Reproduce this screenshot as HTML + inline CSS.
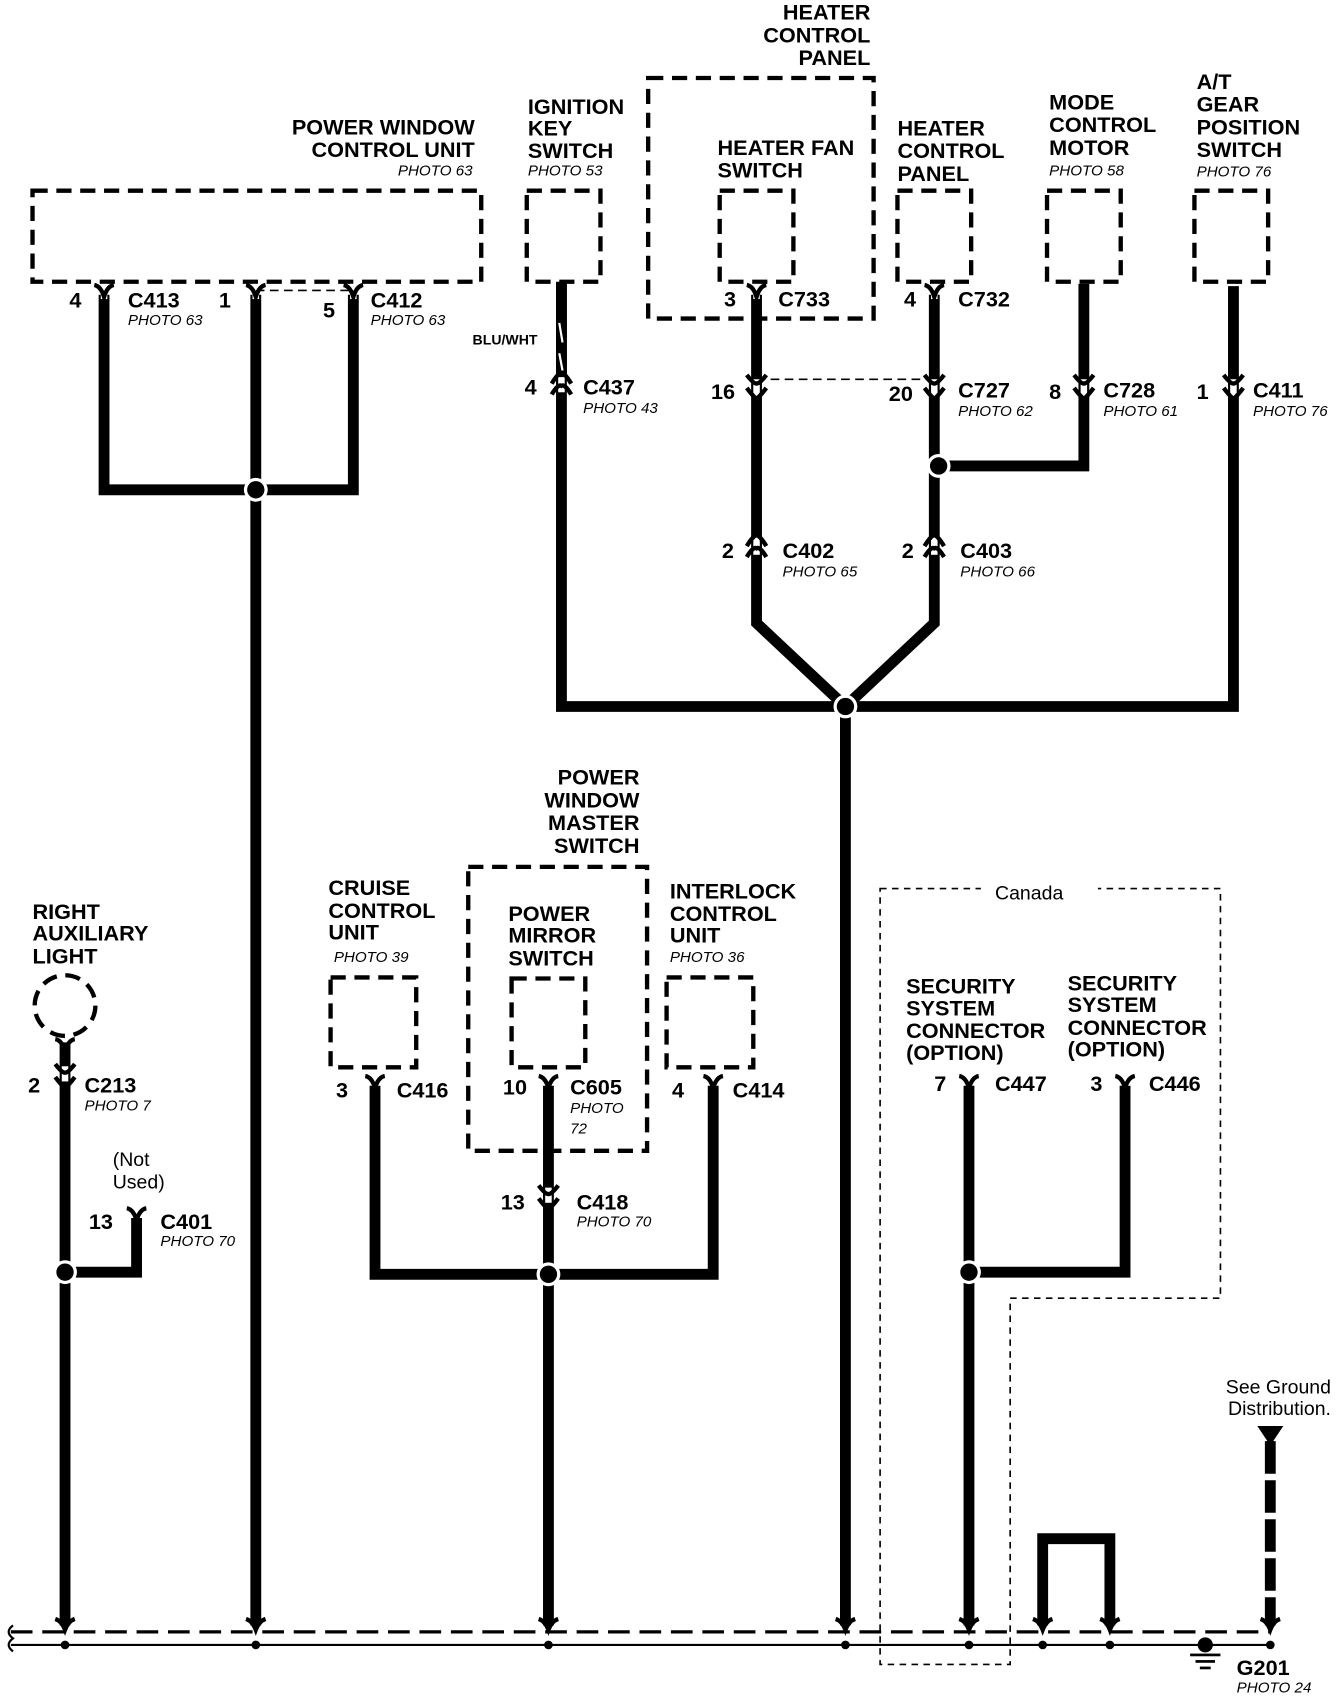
<!DOCTYPE html>
<html><head><meta charset="utf-8"><style>
html,body{margin:0;padding:0;background:#fff}
svg{display:block}
text{font-family:"Liberation Sans",Arial,sans-serif;fill:#000}
.b{font-weight:bold;font-size:20px}
.p{font-style:italic;font-size:14px}
.n{font-size:18px}
.r{text-anchor:end}
</style></head><body>
<svg width="1344" height="1698" viewBox="0 0 1240 1567" preserveAspectRatio="none" xmlns="http://www.w3.org/2000/svg">
<defs>
<g id="y"><path d="M-9,-9 Q-3,-8 0,2 Q3,-8 9,-9" stroke="#000" stroke-width="4" fill="none"/></g>
<g id="yy"><path d="M-9,-2 Q-3,-12 0,-12 Q3,-12 9,-2" stroke="#000" stroke-width="4" fill="none"/><path d="M-9,8 Q-3,-2 0,0 Q3,-2 9,8" stroke="#000" stroke-width="4" fill="none"/></g>
<g id="vv"><path d="M-9,-10 Q-3,-2 0,-2 Q3,-2 9,-10" stroke="#000" stroke-width="4" fill="none"/><path d="M-9,2 Q-3,10 0,12 Q3,10 9,2" stroke="#000" stroke-width="4" fill="none"/></g>
<g id="nd"><circle r="11" fill="#fff"/><circle r="8" fill="#000"/></g>
</defs>
<g fill="none" stroke="#000" stroke-width="4" stroke-dasharray="14,8">
<rect x="30" y="176" width="414" height="84"/>
<rect x="486" y="176" width="68" height="84"/>
<rect x="598" y="72" width="208" height="222"/>
<rect x="664" y="176" width="68" height="84"/>
<rect x="828" y="176" width="68" height="84"/>
<rect x="966" y="176" width="68" height="84"/>
<rect x="1102" y="176" width="68" height="84"/>
<rect x="432" y="800" width="165" height="262"/>
<rect x="472" y="903" width="68" height="82"/>
<rect x="305" y="902" width="79" height="83"/>
<rect x="615" y="902" width="80" height="83"/>
<circle cx="60" cy="928" r="28"/>
</g>
<path d="M812,820 H1126 V1198 H932 V1536 H812 Z" fill="none" stroke="#000" stroke-width="1.5" stroke-dasharray="6,5"/>
<rect x="905" y="812" width="108" height="20" fill="#fff"/>
<g fill="none" stroke="#000" stroke-width="1.5" stroke-dasharray="8,5">
<line x1="236" y1="268" x2="326" y2="268"/>
<line x1="698" y1="350" x2="862" y2="350"/>
</g>
<g fill="none" stroke="#000" stroke-width="10" stroke-linejoin="miter">
<path d="M96,272 V452 H326 V272"/>
<path d="M236,272 V1500"/>
<path d="M518,262 V652 H1138 V264"/>
<path d="M698,272 V575 L780,652 L862,575 V272"/>
<path d="M1000,262 V430 H862"/>
<path d="M780,652 V1500"/>
<path d="M60,962 V1500"/>
<path d="M126,1124 V1174 H60"/>
<path d="M346,1002 V1176 H658 V1002"/>
<path d="M506,1002 V1500"/>
<path d="M894,1002 V1500"/>
<path d="M1038,1002 V1174 H894"/>
<path d="M962,1500 V1420 H1024 V1500"/>
<path d="M1172,1330 V1500" stroke-dasharray="30,6"/>
</g>
<rect x="513" y="260" width="10" height="88" fill="#000"/>
<g stroke="#fff" stroke-width="2"><line x1="516" y1="298" x2="519" y2="316"/><line x1="516" y1="326" x2="519" y2="342"/></g>
<g stroke="#fff" stroke-width="6">
<line x1="96" y1="262" x2="96" y2="276"/><line x1="236" y1="262" x2="236" y2="276"/><line x1="326" y1="262" x2="326" y2="276"/>
<line x1="698" y1="262" x2="698" y2="276"/><line x1="862" y1="262" x2="862" y2="276"/>
<line x1="518" y1="348" x2="518" y2="362"/><line x1="698" y1="350" x2="698" y2="366"/><line x1="862" y1="350" x2="862" y2="366"/><line x1="1000" y1="350" x2="1000" y2="366"/><line x1="1138" y1="350" x2="1138" y2="366"/>
<line x1="698" y1="496" x2="698" y2="512"/><line x1="862" y1="496" x2="862" y2="512"/>
<line x1="60" y1="984" x2="60" y2="998"/><line x1="506" y1="1096" x2="506" y2="1110"/>
</g>
<g>
<use href="#y" x="96" y="272"/><use href="#y" x="236" y="272"/><use href="#y" x="326" y="272"/>
<use href="#y" x="698" y="272"/><use href="#y" x="862" y="272"/>
<use href="#yy" x="518" y="356"/><use href="#vv" x="698" y="356"/><use href="#vv" x="862" y="356"/><use href="#vv" x="1000" y="356"/><use href="#vv" x="1138" y="356"/>
<use href="#yy" x="698" y="506"/><use href="#yy" x="862" y="506"/>
<use href="#y" x="60" y="968"/><use href="#vv" x="60" y="992"/>
<use href="#y" x="126" y="1124"/>
<use href="#y" x="346" y="1002"/><use href="#y" x="506" y="1002"/><use href="#y" x="658" y="1002"/>
<use href="#vv" x="506" y="1104"/>
<use href="#y" x="894" y="1002"/><use href="#y" x="1038" y="1002"/>
</g>
<g><use href="#nd" x="236" y="452"/><use href="#nd" x="866" y="430"/><use href="#nd" x="780" y="652"/><use href="#nd" x="60" y="1174"/><use href="#nd" x="506" y="1176"/><use href="#nd" x="894" y="1174"/></g>
<line x1="10" y1="1506" x2="1172" y2="1506" stroke="#000" stroke-width="3" stroke-dasharray="20,9"/>
<line x1="10" y1="1518" x2="1172" y2="1518" stroke="#000" stroke-width="2"/>
<path d="M12,1500 Q4,1506 12,1512 Q4,1518 12,1524" fill="none" stroke="#000" stroke-width="2"/>
<g fill="#000">
<circle cx="60" cy="1518" r="4"/><circle cx="236" cy="1518" r="4"/><circle cx="506" cy="1518" r="4"/><circle cx="780" cy="1518" r="4"/><circle cx="894" cy="1518" r="4"/><circle cx="962" cy="1518" r="4"/><circle cx="1024" cy="1518" r="4"/><circle cx="1172" cy="1518" r="4"/><circle cx="1112" cy="1518" r="7"/>
<rect x="1098" y="1526" width="28" height="2.5"/><rect x="1103" y="1532" width="18" height="2.5"/><rect x="1107" y="1538" width="10" height="2.5"/>
<polygon points="1160,1316 1184,1316 1172,1334"/>
</g>
<g fill="none" stroke="#000" stroke-width="4">
<path d="M51,1494 Q57,1496 60,1504 Q63,1496 69,1494"/><path d="M227,1494 Q233,1496 236,1504 Q239,1496 245,1494"/><path d="M497,1494 Q503,1496 506,1504 Q509,1496 515,1494"/><path d="M771,1494 Q777,1496 780,1504 Q783,1496 789,1494"/><path d="M885,1494 Q891,1496 894,1504 Q897,1496 903,1494"/><path d="M953,1494 Q959,1496 962,1504 Q965,1496 971,1494"/><path d="M1015,1494 Q1021,1496 1024,1504 Q1027,1496 1033,1494"/><path d="M1163,1494 Q1169,1496 1172,1504 Q1175,1496 1181,1494"/>
</g>
<g class="b">
<text x="438" y="124" class="b r">POWER WINDOW</text><text x="438" y="145" class="b r">CONTROL UNIT</text>
<text x="487" y="105">IGNITION</text><text x="487" y="125">KEY</text><text x="487" y="146">SWITCH</text>
<text x="803" y="18" class="b r">HEATER</text><text x="803" y="39" class="b r">CONTROL</text><text x="803" y="60" class="b r">PANEL</text>
<text x="662" y="143">HEATER FAN</text><text x="662" y="164">SWITCH</text>
<text x="828" y="125">HEATER</text><text x="828" y="146">CONTROL</text><text x="828" y="167">PANEL</text>
<text x="968" y="101">MODE</text><text x="968" y="122">CONTROL</text><text x="968" y="143">MOTOR</text>
<text x="1104" y="82">A/T</text><text x="1104" y="103">GEAR</text><text x="1104" y="124">POSITION</text><text x="1104" y="145">SWITCH</text>
<text x="590" y="724" class="b r">POWER</text><text x="590" y="745" class="b r">WINDOW</text><text x="590" y="766" class="b r">MASTER</text><text x="590" y="787" class="b r">SWITCH</text>
<text x="469" y="850">POWER</text><text x="469" y="870">MIRROR</text><text x="469" y="891">SWITCH</text>
<text x="303" y="826">CRUISE</text><text x="303" y="847">CONTROL</text><text x="303" y="867">UNIT</text>
<text x="618" y="829">INTERLOCK</text><text x="618" y="850">CONTROL</text><text x="618" y="870">UNIT</text>
<text x="30" y="848">RIGHT</text><text x="30" y="868">AUXILIARY</text><text x="30" y="889">LIGHT</text>
<text x="836" y="917">SECURITY</text><text x="836" y="937">SYSTEM</text><text x="836" y="958">CONNECTOR</text><text x="836" y="978">(OPTION)</text>
<text x="985" y="914">SECURITY</text><text x="985" y="934">SYSTEM</text><text x="985" y="955">CONNECTOR</text><text x="985" y="975">(OPTION)</text>
<text x="64" y="284">4</text><text x="118" y="284">C413</text><text x="202" y="284">1</text><text x="298" y="293">5</text><text x="342" y="284">C412</text>
<text x="484" y="364">4</text><text x="538" y="364">C437</text>
<text x="668" y="283">3</text><text x="718" y="283">C733</text><text x="834" y="283">4</text><text x="884" y="283">C732</text>
<text x="656" y="368">16</text><text x="820" y="370">20</text><text x="884" y="367">C727</text>
<text x="968" y="368">8</text><text x="1018" y="367">C728</text><text x="1104" y="368">1</text><text x="1156" y="367">C411</text>
<text x="666" y="515">2</text><text x="722" y="515">C402</text><text x="832" y="515">2</text><text x="886" y="515">C403</text>
<text x="26" y="1008">2</text><text x="78" y="1008">C213</text><text x="82" y="1134">13</text><text x="148" y="1134">C401</text>
<text x="310" y="1013">3</text><text x="366" y="1013">C416</text><text x="464" y="1010">10</text><text x="526" y="1010">C605</text>
<text x="620" y="1013">4</text><text x="676" y="1013">C414</text><text x="462" y="1116">13</text><text x="532" y="1116">C418</text>
<text x="862" y="1007">7</text><text x="918" y="1007">C447</text><text x="1006" y="1007">3</text><text x="1060" y="1007">C446</text>
<text x="1141" y="1546">G201</text>
</g>
<text x="436" y="318" style="font-weight:bold;font-size:13px">BLU/WHT</text>
<g class="p">
<text x="436" y="162" class="p r">PHOTO 63</text><text x="487" y="162">PHOTO 53</text><text x="968" y="162">PHOTO 58</text><text x="1104" y="163">PHOTO 76</text>
<text x="118" y="300">PHOTO 63</text><text x="342" y="300">PHOTO 63</text><text x="538" y="381">PHOTO 43</text>
<text x="884" y="384">PHOTO 62</text><text x="1018" y="384">PHOTO 61</text><text x="1156" y="384">PHOTO 76</text>
<text x="722" y="532">PHOTO 65</text><text x="886" y="532">PHOTO 66</text>
<text x="308" y="888">PHOTO 39</text><text x="618" y="888">PHOTO 36</text>
<text x="78" y="1025">PHOTO 7</text><text x="148" y="1150">PHOTO 70</text>
<text x="526" y="1027">PHOTO</text><text x="526" y="1046">72</text><text x="532" y="1132">PHOTO 70</text>
<text x="1141" y="1562">PHOTO 24</text>
</g>
<g class="n">
<text x="918" y="830">Canada</text>
<text x="104" y="1076">(Not</text><text x="104" y="1097">Used)</text>
<text x="1228" y="1286" class="n r">See Ground</text><text x="1228" y="1306" class="n r">Distribution.</text>
</g>
</svg>
</body></html>
